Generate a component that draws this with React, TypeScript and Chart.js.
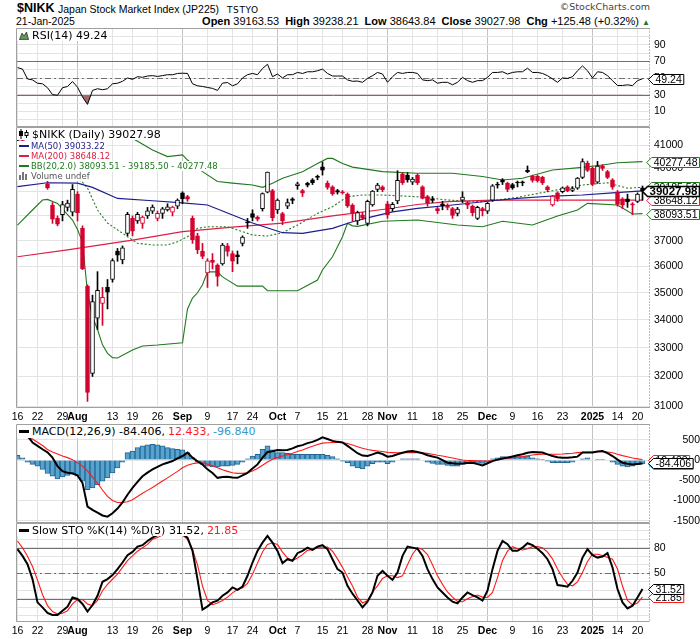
import React, { useEffect, useRef } from "react";
import { Chart, registerables } from "chart.js";

Chart.register(...registerables);

// ---------------- DATA ----------------
const dates = [
  "2024-07-16","2024-07-17","2024-07-18","2024-07-19","2024-07-22","2024-07-23","2024-07-24","2024-07-25","2024-07-26","2024-07-29","2024-07-30","2024-07-31",
  "2024-08-01","2024-08-02","2024-08-05","2024-08-06","2024-08-07","2024-08-08","2024-08-09","2024-08-13","2024-08-14","2024-08-15","2024-08-16","2024-08-19","2024-08-20","2024-08-21","2024-08-22","2024-08-23","2024-08-26","2024-08-27","2024-08-28","2024-08-29","2024-08-30",
  "2024-09-02","2024-09-03","2024-09-04","2024-09-05","2024-09-06","2024-09-09","2024-09-10","2024-09-11","2024-09-12","2024-09-13","2024-09-17","2024-09-18","2024-09-19","2024-09-20","2024-09-24","2024-09-25","2024-09-26","2024-09-27","2024-09-30",
  "2024-10-01","2024-10-02","2024-10-03","2024-10-04","2024-10-07","2024-10-08","2024-10-09","2024-10-10","2024-10-11","2024-10-15","2024-10-16","2024-10-17","2024-10-18","2024-10-21","2024-10-22","2024-10-23","2024-10-24","2024-10-25","2024-10-28","2024-10-29","2024-10-30","2024-10-31",
  "2024-11-01","2024-11-05","2024-11-06","2024-11-07","2024-11-08","2024-11-11","2024-11-12","2024-11-13","2024-11-14","2024-11-15","2024-11-18","2024-11-19","2024-11-20","2024-11-21","2024-11-22","2024-11-25","2024-11-26","2024-11-27","2024-11-28","2024-11-29",
  "2024-12-02","2024-12-03","2024-12-04","2024-12-05","2024-12-06","2024-12-09","2024-12-10","2024-12-11","2024-12-12","2024-12-13","2024-12-16","2024-12-17","2024-12-18","2024-12-19","2024-12-20","2024-12-23","2024-12-24","2024-12-25","2024-12-26","2024-12-27","2024-12-30",
  "2025-01-06","2025-01-07","2025-01-08","2025-01-09","2025-01-10","2025-01-14","2025-01-15","2025-01-16","2025-01-17","2025-01-20","2025-01-21",
];

const openP = [
  41200,41200,40600,40300,39800,39800,39330,38450,37900,38050,38350,38150,
  38900,37500,35250,32100,34060,34600,35210,35500,36600,36250,37300,37900,37800,37700,38000,38200,37900,38100,38250,38150,38400,
  38950,38800,37900,37200,36600,35750,36250,36050,36100,36800,36500,36450,36900,37750,38100,37950,38300,38980,39050,
  38250,38100,38400,38700,39250,39050,39350,39500,39650,40050,39350,39200,39050,39000,38900,38450,37800,38050,37700,38450,39100,39200,
  38500,38300,38620,39750,39700,39400,39700,39200,38800,38700,38300,38500,38400,38300,38100,38650,38550,38400,37900,38300,
  38200,38650,39300,39500,39350,39300,39400,39380,39900,39650,39650,39600,39200,38450,38950,39000,39200,39050,39150,39600,40200,
  40000,39400,40100,39850,39500,39000,38700,38700,38500,38600,39163.53,
];
const highP = [
  41380,41250,40650,40500,40100,39900,39450,38550,38000,38600,38650,39300,
  39000,37600,35300,34911,35800,35200,35500,36300,36700,36800,38150,38000,38150,38000,38350,38450,38200,38350,38500,38400,38700,
  39000,38850,38000,37300,36900,36300,36500,36100,36900,36900,36600,36600,37200,37900,38250,38000,38950,39830,39100,
  38700,38150,38700,38750,39400,39100,39400,39550,39700,40260,39450,39250,39100,39050,38950,38500,38200,38150,38650,39050,39350,39250,
  38600,38550,39885,39800,39800,39600,39750,39250,38850,38800,38350,38600,38500,38350,38350,39000,38600,38450,38400,38350,
  38550,39300,39400,39550,39400,39350,39450,39450,40091,39700,39700,39650,39250,38850,39000,39200,39250,39200,39600,40398,40300,
  40050,40288,40150,39900,39550,39050,38750,38900,38550,38950,39238.21,
];
const lowP = [
  41060,40950,40000,39900,39500,39500,39100,37700,37600,37800,38200,38000,
  37800,35880,31156,32000,33650,33800,34400,35400,36200,36100,37200,37200,37700,37500,37900,38100,37800,37900,38200,38000,38300,
  38500,38600,36900,36500,36300,35200,35900,35250,36050,36400,35800,36100,36800,37500,37800,37800,38200,38950,37800,
  38100,37650,38300,38500,39100,38800,39200,39300,39500,39700,39100,38850,38900,38900,38350,37800,37650,37850,37600,38400,39000,39000,
  37900,38200,38500,39300,39400,39300,39300,38700,38400,38550,38100,38250,38250,37900,38000,38550,38300,38000,37850,38000,
  38100,38600,39150,39300,39000,39100,39200,39250,39800,39400,39400,39300,39000,38400,38600,38950,39000,39000,39100,39550,39850,
  39250,39350,39900,39550,39100,38400,38300,38350,38050,38550,38643.84,
];
const closeP = [
  41275,41098,40126,40063,39599,39594,39154,37869,37667,38468,38525,39101,
  38126,35909,31458,34675,35089,34831,35025,36232,36442,36726,38062,37388,38063,37951,38211,38364,38110,38288,38371,38362,38647,
  38700,38686,37047,36657,36391,36215,36159,35619,36833,36581,36203,36380,37155,37723,37940,37870,38926,39830,37919,
  38651,37808,38552,38635,39332,38937,39277,39380,39605,39910,39180,38911,38981,38954,38411,38104,38143,37913,38605,39027,39277,39081,
  38053,38474,39480,39381,39500,39533,39376,38721,38535,38642,38220,38414,38352,38026,38284,38780,38442,38134,38349,38208,
  38513,39248,39276,39395,39091,39160,39367,39372,39849,39470,39457,39364,39081,38813,38701,39161,39036,39130,39568,40281,39894,
  39307,40083,39981,39605,39190,38474,38444,38572,38451,38902.5,39027.98,
];
const prevCloseBeforeStart = 41190;

// Moving averages / Bollinger bands (day index, value)
const ma50Day = [0,6,12,15,20,27,33,38,43,47,53,57,63,67,71,75,80,87,95,100,107,113,119,125];
const ma50Val = [39210,39375,39360,39180,38720,38625,38540,38448,38038,37715,37325,37300,37500,37765,37970,38170,38310,38448,38625,38720,38820,38862,38955,39033.22];
const ma200Day = [0,10,23,33,43,53,63,73,80,86,95,110,125];
const ma200Val = [36376,36643,37033,37367,37546,37710,38000,38265,38470,38590,38654,38654,38648.12];
const bbUpDay = [0,12,18,21,23,27,30,33,34,37,40,43,47,49,51,53,57,60,62,63,65,67,73,80,87,93,97,101,107,113,117,120,125];
const bbUpVal = [42700,42600,42300,41810,41296,40782,40494,40567,40346,39846,39425,39359,39280,39184,39359,39565,39846,40200,40415,40415,40200,40040,39846,39777,39777,39640,39491,39563,39917,40031,40131,40228,40277.48];
const bbMidDay = [0,6,10,13,14,16,18,22,24,27,30,32,34,36,38,42,44,47,50,53,56,60,63,66,69,73,80,86,93,100,106,113,118,122,125];
const bbMidVal = [40700,40300,39800,39400,39154,38243,37714,37165,36904,36838,36838,36967,37165,37500,37566,37566,37432,37232,37192,37324,37633,38105,38380,38793,38862,38862,38790,38654,38585,38770,39000,39280,39375,39145,39185.5];
const bbLoDay = [0,3,5,6,8,11,12,13,14,15,16,17,18,19,20,23,25,28,33,34,35,36,37,38,40,41,44,49,50,56,60,61,63,65,66,67,68,73,80,88,93,97,103,108,112,114,120,123,125];
const bbLoVal = [37633,38243,38654,38680,38515,37835,37450,36950,35000,34110,33650,33100,32800,32650,32640,32917,33060,33095,33177,34400,34800,35000,35300,35790,35790,35600,35250,35250,35075,35075,35480,35862,36376,37165,37700,37600,37580,37783,37835,37633,37566,37783,37633,37995,38243,38515,38448,38079,38093.51];

const rsi = [
  62.6,60.8,49.0,47.9,43.9,43.2,38.5,30.3,29.5,38.5,
  40.0,45.9,39.2,27.5,18.6,35.3,37.3,36.1,37.3,43.2,
  43.9,46.2,50.2,48.5,51.7,51.0,52.5,53.0,52.0,53.0,
  54.1,54.0,55.6,55.9,55.6,43.2,40.8,40.0,38.8,37.7,
  35.3,44.0,44.7,40.8,43.2,50.2,54.1,55.6,54.1,61.5,
  66.6,51.7,54.9,50.2,54.1,54.1,56.8,55.6,57.6,57.6,
  58.8,60.8,55.6,52.5,52.5,52.5,47.9,46.2,46.5,45.0,
  49.7,52.9,56.8,54.9,45.0,51.7,56.8,55.6,56.8,56.8,
  55.6,47.9,47.0,47.9,43.9,45.0,45.0,42.0,45.0,50.9,
  47.0,45.0,47.0,47.0,50.9,56.8,56.8,57.6,54.9,56.8,
  57.6,57.6,61.9,56.8,56.8,55.6,52.9,49.0,45.0,50.2,
  49.7,51.7,58.8,64.6,58.8,50.2,57.6,56.8,52.9,47.0,
  41.2,41.2,42.0,41.0,47.0,49.24,
];

const macd = [
  750,680,600,435,350,268,190,60,-150,-275,
  -315,-333,-380,-565,-1150,-1233,-1300,-1370,-1400,-1315,
  -1200,-1050,-858,-690,-540,-400,-310,-233,-170,-108,
  -65,-25,40,100,185,60,-30,-110,-230,-320,
  -440,-420,-415,-430,-440,-380,-315,-210,-108,60,
  200,220,250,240,250,290,340,370,420,450,
  500,560,520,475,450,435,350,260,170,110,
  100,140,185,150,85,100,143,180,210,225,
  200,168,120,90,60,0,-65,-80,-90,-83,
  -70,-65,-100,-133,-80,-25,10,40,60,90,
  120,143,180,200,195,185,140,100,70,60,
  60,70,85,185,190,185,210,225,170,100,
  10,-65,-90,-108,-95,-84.406,
];
const macdSignal = [
  643,600,560,518,440,360,260,200,150,100,
  60,10,-70,-150,-270,-420,-570,-740,-900,-1000,
  -1050,-1050,-1030,-983,-900,-820,-750,-680,-600,-520,
  -440,-360,-280,-190,-130,-90,-70,-70,-100,-140,
  -190,-240,-280,-315,-330,-330,-315,-270,-210,-130,
  -50,18,60,100,135,170,210,250,300,340,
  385,418,430,435,437,435,410,370,330,290,
  260,240,225,210,190,185,180,180,183,185,
  185,180,165,145,120,100,75,50,25,0,
  -10,-15,-20,-25,-25,-10,15,35,45,60,
  75,85,105,125,140,145,145,143,143,150,
  160,170,185,190,195,200,205,210,200,180,
  143,110,80,50,30,12.433,
];
const macdHist = [
  117,58,-50,-108,-150,-233,-333,-400,-467,-417,
  -383,-317,-400,-525,-733,-692,-608,-525,-442,-317,
  -192,-50,183,225,308,350,375,392,375,350,
  308,283,267,250,183,58,-50,-108,-150,-167,
  -167,-150,-150,-133,-108,-50,33,100,142,267,
  350,250,183,183,167,142,142,142,142,142,
  142,142,117,83,33,-25,-67,-150,-192,-217,
  -150,-92,-50,-50,-92,-50,0,33,33,33,
  33,0,-50,-83,-108,-108,-133,-150,-150,-108,
  -83,-83,-83,-83,-50,33,58,83,83,83,
  83,83,100,58,33,17,-25,-67,-67,-67,
  -67,-50,0,33,58,0,17,17,0,-50,
  -108,-150,-167,-150,-108,-96.84,
];

const stoK = [
  78.4,70.5,60.8,43.2,15.8,9.9,3.3,1.0,1.0,6.0,
  10.7,21.6,19.8,13.9,4.9,12.7,23.6,40.0,43.2,47.9,
  54.9,62.7,71.3,75.2,81.4,83.1,88.1,92.0,95,97,
  98,97,96,96,92,76.4,43.2,7.2,11.1,15.8,
  17.8,23.6,27.5,33.4,30.6,34.5,47.1,62.7,76.4,86.1,
  94.0,86.1,76.4,62.0,66.6,64.7,73.7,76.4,80.2,77.5,
  81.4,83.1,78.4,66.6,54.9,50.9,35.3,26,18,9.9,
  16.6,27.5,47.1,52.9,47.1,42.4,50.9,70.5,81.4,80.2,
  79.0,70.5,54.9,43.2,33.4,27.5,21.6,16.6,14.6,21.6,
  27.5,24.4,21.6,17.8,29.5,54.9,76.4,88.1,84.2,76.4,
  76.4,80.2,85.4,83.1,79.0,73.7,66.6,54.9,36.2,35.3,
  34.2,41.2,50.9,68.5,78.4,71.3,68.5,69.7,73.7,56.8,
  31.5,15.8,8.7,11.9,21.6,31.52,
];
const stoD = [
  88,80,70,58,42,25,12,5,2,3,
  6,14,19,19,14,12,18,29.5,37,43,
  49,57,65,70.5,76,80,84,90,92,95,
  97,97,97,95,90,78,60,35,18,13,
  15,18,22,27,31,33,38,49,62,75,
  84,86,84,75,68,65,68,72,77,78,
  80,80,81,76,67,57,46,35,22,15.1,
  18,28,35.3,44,47.1,47.1,45,47,60,72.5,
  80.2,78,72,60,47,37,28,22,17,16.6,
  20,22.8,24.4,22,21.6,27.5,45,65,76,81.4,
  79,77.5,79,81.4,81.4,80,75,67,55,45,
  37,35.3,40,50.9,64,72.5,72.5,71,68.5,66.6,
  55,35,18,12.7,15.1,21.85,
];

const xTickDates = ["2024-07-16","2024-07-22","2024-07-29","2024-08-01","2024-08-13","2024-08-19","2024-08-26","2024-09-02","2024-09-09","2024-09-17","2024-09-24","2024-10-01","2024-10-07","2024-10-15","2024-10-21","2024-10-28","2024-11-01","2024-11-11","2024-11-18","2024-11-25","2024-12-02","2024-12-09","2024-12-16","2024-12-23","2025-01-06","2025-01-14","2025-01-20"];
const xTickText = ["16","22","29","Aug","13","19","26","Sep","9","17","24","Oct","7","15","21","28","Nov","11","18","25","Dec","9","16","23","2025","14","20"];
const xTickMajor = [false,false,false,true,false,false,false,true,false,false,false,true,false,false,false,false,true,false,false,false,true,false,false,false,true,false,false];

const mainTicks = [31000,32000,33000,34000,35000,36000,37000,38000,39000,40000,41000];
const oscGrid = [0,10,20,30,40,50,60,70,80,90,100];
const rsiLabels = [90,70,50,30,10];
const stoLabels = [80,50,20];
const macdTicks = [-1500,-1000,-500,0,500];

// ---------------- STYLE ----------------
const FONT = '"Liberation Sans", Arial, Helvetica, sans-serif';
const LFONT = '"DejaVu Sans", Verdana, sans-serif';
const RED = "#d4002e";
const MA50C = "#1c1c8c";
const MA200C = "#dc1f45";
const BBC = "#1f7a1f";
const GRID = "#e3e3e3";
const MGRID = "#c2c2c2";
const X_MIN = -0.1;
const X_MAX = 126.5;

Chart.defaults.font.family = FONT;

const xTickIdx = xTickDates.map((d) => dates.indexOf(d));
const isMajor = (v: number) => {
  const k = xTickIdx.indexOf(v);
  return k >= 0 && xTickMajor[k];
};
const last = (a: number[]) => a[a.length - 1];

function zeroPad(s: any) {
  s.paddingTop = 0;
  s.paddingBottom = 0;
  s.paddingLeft = 0;
  s.paddingRight = 0;
}

function xScale(showLabels: boolean, h: number): any {
  return {
    type: "linear",
    min: X_MIN,
    max: X_MAX,
    offset: false,
    afterBuildTicks: (s: any) => {
      s.ticks = xTickIdx.map((v) => ({ value: v }));
    },
    afterFit: (s: any) => {
      s.height = h;
      zeroPad(s);
    },
    grid: {
      offset: false,
      drawTicks: false,
      color: (c: any) => (c.tick && isMajor(c.tick.value) ? MGRID : GRID),
    },
    border: { display: false },
    ticks: {
      display: showLabels,
      autoSkip: false,
      maxRotation: 0,
      padding: 3,
      color: "#000",
      font: (c: any) => ({ family: FONT, size: 10.5, weight: c.tick && isMajor(c.tick.value) ? "bold" : "normal" }),
      callback: (v: number) => {
        const k = xTickIdx.indexOf(v);
        return k >= 0 ? xTickText[k] : "";
      },
    },
  };
}

function yScale(min: number, max: number, ticks: number[], label: (v: number) => string, extra: any = {}): any {
  return {
    type: "linear",
    position: "right",
    min,
    max,
    afterFit: (s: any) => {
      s.width = 50;
      zeroPad(s);
    },
    afterBuildTicks: (s: any) => {
      s.ticks = ticks.map((v) => ({ value: v }));
    },
    grid: { drawTicks: false, color: GRID },
    border: { display: false },
    ticks: { padding: 4, autoSkip: false, color: "#000", font: { family: FONT, size: 10.5 }, callback: label },
    ...extra,
  };
}

function baseOptions(scales: any): any {
  return {
    responsive: false,
    animation: false,
    events: [],
    layout: { padding: { left: 17, right: 0, top: 8, bottom: 0 }, autoPadding: false },
    plugins: { legend: { display: false }, tooltip: { enabled: false } },
    scales,
  };
}

const pts = (xs: number[], ys: number[]) => xs.map((x, i) => ({ x, y: ys[i] }));
const series = (vals: number[]) => vals.map((v, i) => ({ x: i, y: v }));

function lineDs(data: any[], color: string, width: number, extra: any = {}): any {
  return { type: "line", data, borderColor: color, borderWidth: width, pointRadius: 0, tension: 0, fill: false, ...extra };
}

const framePlugin = {
  id: "frame",
  afterDraw(chart: any) {
    const { ctx, chartArea: a } = chart;
    const l = Math.round(a.left) - 0.5;
    const t = Math.round(a.top) + 0.5;
    const r = Math.round(a.right) - 0.5;
    const b = Math.round(a.bottom) - 0.5;
    ctx.save();
    ctx.strokeStyle = "#a0a0a0";
    ctx.lineWidth = 1;
    ctx.beginPath();
    ctx.moveTo(r, t);
    ctx.lineTo(l, t);
    ctx.lineTo(l, b);
    ctx.lineTo(r, b);
    ctx.stroke();
    ctx.setLineDash([1, 2]);
    ctx.strokeStyle = "#7a7a7a";
    ctx.beginPath();
    ctx.moveTo(r, t);
    ctx.lineTo(r, b);
    ctx.stroke();
    ctx.restore();
  },
};

function refPlugin(lines: { value: number; color: string; dash?: number[] }[]): any {
  return {
    id: "refLines",
    beforeDatasetsDraw(chart: any) {
      const { ctx, chartArea: a, scales } = chart;
      for (const L of lines) {
        const py = Math.round(scales.y.getPixelForValue(L.value)) + 0.5;
        ctx.save();
        ctx.strokeStyle = L.color;
        ctx.lineWidth = 1;
        ctx.setLineDash(L.dash || []);
        ctx.beginPath();
        ctx.moveTo(a.left, py);
        ctx.lineTo(a.right, py);
        ctx.stroke();
        ctx.restore();
      }
    },
  };
}

function tagPlugin(items: { value: number; text: string; color: string; bold?: boolean }[]): any {
  return {
    id: "tags",
    afterDraw(chart: any) {
      const { ctx, chartArea: a, scales } = chart;
      for (const t of items) {
        const py = Math.round(scales.y.getPixelForValue(t.value)) + 0.5;
        ctx.save();
        ctx.font = (t.bold ? "bold 11.5px " : "10.5px ") + FONT;
        const tw = ctx.measureText(t.text).width;
        let tip = a.right - 1.5;
        let bx = tip + 5;
        let ex = bx + tw + 4;
        if (ex > 699.5) {
          const s = ex - 699.5;
          tip -= s;
          bx -= s;
          ex -= s;
        }
        const h = 5;
        ctx.beginPath();
        ctx.moveTo(tip, py);
        ctx.lineTo(bx, py - h);
        ctx.lineTo(ex, py - h);
        ctx.lineTo(ex, py + h);
        ctx.lineTo(bx, py + h);
        ctx.closePath();
        ctx.fillStyle = "#fff";
        ctx.fill();
        ctx.lineWidth = t.bold ? 1.6 : 1;
        ctx.strokeStyle = t.color;
        ctx.stroke();
        ctx.fillStyle = "#000";
        ctx.textBaseline = "middle";
        ctx.textAlign = "left";
        ctx.fillText(t.text, bx + 2, py + 0.5);
        ctx.restore();
      }
    },
  };
}

// ---------------- CHART CONFIGS ----------------
function rsiConfig(): any {
  return {
    type: "line",
    data: {
      datasets: [
        lineDs(series(rsi), "#000", 1, {
          fill: { target: { value: 30 }, above: "rgba(0,0,0,0)", below: "#a06a6a" },
        }),
      ],
    },
    options: baseOptions({
      x: xScale(false, 1),
      y: yScale(-8.5, 110, oscGrid, (v: number) => (rsiLabels.includes(v) ? String(v) : "")),
    }),
    plugins: [
      refPlugin([
        { value: 70, color: "#707070" },
        { value: 30, color: "#707070" },
        { value: 50, color: "#707070", dash: [6, 3, 2, 3] },
      ]),
      framePlugin,
      tagPlugin([{ value: last(rsi), text: last(rsi).toFixed(2), color: "#000" }]),
    ],
  };
}

function mainConfig(): any {
  const candleColor = closeP.map((c, i) => (c < (i === 0 ? prevCloseBeforeStart : closeP[i - 1]) ? RED : "#000"));
  const bodyFill = closeP.map((c, i) => (c < openP[i] ? candleColor[i] : "#fff"));
  return {
    type: "bar",
    data: {
      datasets: [
        {
          type: "bar",
          data: closeP.map((c, i) => ({ x: i, y: [openP[i], c] })),
          backgroundColor: bodyFill,
          borderColor: candleColor,
          borderWidth: 1,
          borderSkipped: false,
          barThickness: 4,
          minBarLength: 1,
          grouped: false,
          order: 0,
        },
        {
          type: "bar",
          data: highP.map((h, i) => ({ x: i, y: [lowP[i], h] })),
          backgroundColor: candleColor,
          borderWidth: 0,
          barThickness: 1,
          grouped: false,
          order: 1,
        },
        lineDs(pts(ma50Day, ma50Val), MA50C, 1.2, { order: 2 }),
        lineDs(pts(ma200Day, ma200Val), MA200C, 1.2, { order: 3 }),
        lineDs(pts(bbUpDay, bbUpVal), BBC, 1.1, { order: 4 }),
        lineDs(pts(bbMidDay, bbMidVal), BBC, 1.1, { order: 5, borderDash: [2, 2] }),
        lineDs(pts(bbLoDay, bbLoVal), BBC, 1.1, { order: 6 }),
      ],
    },
    options: baseOptions({
      x: xScale(true, 17),
      y: {
        ...yScale(30937, 41798, mainTicks, (v: number) => String(v)),
        type: "logarithmic",
      },
    }),
    plugins: [
      framePlugin,
      tagPlugin([
        { value: last(bbUpVal), text: last(bbUpVal).toFixed(2), color: BBC },
        { value: last(bbMidVal), text: last(bbMidVal).toFixed(2), color: BBC },
        { value: last(ma50Val), text: last(ma50Val).toFixed(2), color: MA50C },
        { value: last(ma200Val), text: last(ma200Val).toFixed(2), color: MA200C },
        { value: last(bbLoVal), text: last(bbLoVal).toFixed(2), color: BBC },
        { value: last(closeP), text: last(closeP).toFixed(2), color: "#000", bold: true },
      ]),
    ],
  };
}

function macdConfig(): any {
  return {
    type: "bar",
    data: {
      datasets: [
        lineDs(series(macd), "#000", 2, { order: 0 }),
        lineDs(series(macdSignal), "#ff1a1a", 1.1, { order: 1 }),
        {
          type: "bar",
          data: series(macdHist),
          backgroundColor: "#57a3d0",
          borderColor: "#24668f",
          borderWidth: 1,
          barThickness: 5,
          grouped: false,
          order: 2,
        },
      ],
    },
    options: baseOptions({
      x: xScale(false, 1),
      y: yScale(-1557, 892, macdTicks, (v: number) => String(v), {
        ticks: { padding: 6, crossAlign: "far", autoSkip: false, color: "#000", font: { family: FONT, size: 10.5 }, callback: (v: number) => String(v) },
      }),
    }),
    plugins: [
      framePlugin,
      tagPlugin([
        { value: last(macdHist), text: last(macdHist).toFixed(3), color: "#3399cc" },
        { value: last(macdSignal), text: last(macdSignal).toFixed(3), color: "#ff1a1a" },
        { value: last(macd), text: last(macd).toFixed(3), color: "#000" },
      ]),
    ],
  };
}

function stoConfig(): any {
  return {
    type: "line",
    data: {
      datasets: [
        lineDs(series(stoK), "#000", 2, { order: 0 }),
        lineDs(series(stoD), "#ff1a1a", 1.1, { order: 1 }),
      ],
    },
    options: baseOptions({
      x: xScale(true, 17),
      y: yScale(-7.3, 109.2, oscGrid, (v: number) => (stoLabels.includes(v) ? String(v) : "")),
    }),
    plugins: [
      refPlugin([
        { value: 80, color: "#707070" },
        { value: 20, color: "#707070" },
        { value: 50, color: "#707070", dash: [6, 3, 2, 3] },
      ]),
      framePlugin,
      tagPlugin([
        { value: last(stoD), text: last(stoD).toFixed(2), color: "#ff1a1a" },
        { value: last(stoK), text: last(stoK).toFixed(2), color: "#000" },
      ]),
    ],
  };
}

// ---------------- COMPONENT ----------------
const abs = (left: number, top: number, extra: any = {}): any => ({ position: "absolute", left, top, whiteSpace: "nowrap", ...extra });

function Dash({ color, w = 10, h = 2, mr = 3 }: { color: string; w?: number; h?: number; mr?: number }) {
  return <span style={{ display: "inline-block", width: w, height: h, background: color, marginRight: mr }} />;
}

export default function App() {
  const rsiRef = useRef<HTMLCanvasElement>(null);
  const mainRef = useRef<HTMLCanvasElement>(null);
  const macdRef = useRef<HTMLCanvasElement>(null);
  const stoRef = useRef<HTMLCanvasElement>(null);

  useEffect(() => {
    const charts = [
      new Chart(rsiRef.current as any, rsiConfig()),
      new Chart(mainRef.current as any, mainConfig()),
      new Chart(macdRef.current as any, macdConfig()),
      new Chart(stoRef.current as any, stoConfig()),
    ];
    return () => charts.forEach((c) => c.destroy());
  }, []);

  const lastC = last(closeP);
  const prevC = closeP[closeP.length - 2];
  const chg = lastC - prevC;
  const chgPct = (chg / prevC) * 100;
  const lastDate = new Date(dates[dates.length - 1] + "T00:00:00");
  const mon = ["Jan","Feb","Mar","Apr","May","Jun","Jul","Aug","Sep","Oct","Nov","Dec"][lastDate.getMonth()];
  const dateText = `${String(lastDate.getDate()).padStart(2, "0")}-${mon}-${lastDate.getFullYear()}`;

  const legendBox = (top: number, h: number, font: string, children: any) => (
    <div style={abs(17, top, { height: h, background: "#fff", display: "flex", alignItems: "center", paddingLeft: 2, paddingRight: 2, font, zIndex: 3 })}>
      {children}
    </div>
  );

  return (
    <div style={{ position: "absolute", left: 0, top: 0, width: 700, height: 639, background: "#fff", overflow: "hidden", fontFamily: FONT, color: "#000" }}>
      {/* header */}
      <div style={abs(17, 1, { font: `bold 12.5px ${FONT}`, lineHeight: "15px" })}>$NIKK</div>
      <div style={abs(58, 3, { font: `10.5px ${FONT}`, lineHeight: "13px" })}>Japan Stock Market Index (JP225)</div>
      <div style={abs(227, 4, { font: `9px ${LFONT}`, letterSpacing: "0.6px", lineHeight: "12px" })}>TSTYO</div>
      <div style={abs(16, 15, { font: `10.5px ${FONT}`, lineHeight: "12px" })}>{dateText}</div>
      <div style={{ position: "absolute", right: 50, top: 1, font: `9.5px ${LFONT}`, color: "#444", lineHeight: "12px", whiteSpace: "nowrap" }}>
        ©StockCharts.com
      </div>
      <div style={{ position: "absolute", right: 50, top: 15, font: `11px ${FONT}`, lineHeight: "12px", whiteSpace: "nowrap" }}>
        <b>Open</b> {last(openP).toFixed(2)}
        <b style={{ marginLeft: 6 }}>High</b> {last(highP).toFixed(2)}
        <b style={{ marginLeft: 6 }}>Low</b> {last(lowP).toFixed(2)}
        <b style={{ marginLeft: 6 }}>Close</b> {lastC.toFixed(2)}
        <b style={{ marginLeft: 6 }}>Chg</b> {(chg >= 0 ? "+" : "") + chg.toFixed(2)} ({(chgPct >= 0 ? "+" : "") + chgPct.toFixed(2)}%){" "}
        <span style={{ color: "#1e7a1e", fontSize: 8 }}>▲</span>
      </div>

      {/* canvases */}
      <canvas ref={rsiRef} width={700} height={108} style={{ position: "absolute", left: 0, top: 20, width: 700, height: 108 }} />
      <canvas ref={mainRef} width={700} height={306} style={{ position: "absolute", left: 0, top: 119, width: 700, height: 306 }} />
      <canvas ref={macdRef} width={700} height={108} style={{ position: "absolute", left: 0, top: 416, width: 700, height: 108 }} />
      <canvas ref={stoRef} width={700} height={124} style={{ position: "absolute", left: 0, top: 515, width: 700, height: 124 }} />

      {/* RSI legend */}
      {legendBox(29, 12, `11px ${LFONT}`, (
        <>
          <svg width="10" height="9" style={{ marginRight: 3 }}>
            <path d="M0.5 8.5 L3 2 L5 5 L7.5 1 L9.5 8.5 Z" fill="#5a9a5a" stroke="#333" strokeWidth="0.8" />
            <path d="M0.5 8.5 L9.5 8.5" stroke="#8a4a4a" strokeWidth="1.2" />
          </svg>
          <span>RSI(14) {last(rsi).toFixed(2)}</span>
        </>
      ))}

      {/* Main legend */}
      {legendBox(128, 12, `11px ${LFONT}`, (
        <>
          <svg width="10" height="10" style={{ marginRight: 3 }}>
            <path d="M2 0 V10 M7.5 1 V9" stroke="#000" strokeWidth="1" />
            <rect x="0.5" y="2.5" width="3" height="4" fill="#000" stroke="#000" />
            <rect x="6" y="3.5" width="3" height="3" fill="#fff" stroke="#000" />
          </svg>
          <span>$NIKK (Daily) {lastC.toFixed(2)}</span>
        </>
      ))}
      {legendBox(141, 10, `8.5px ${LFONT}`, (
        <>
          <Dash color={MA50C} mr={2} />
          <span style={{ color: MA50C }}>MA(50) {last(ma50Val).toFixed(2)}</span>
        </>
      ))}
      {legendBox(151, 10, `8.5px ${LFONT}`, (
        <>
          <Dash color={MA200C} mr={2} />
          <span style={{ color: MA200C }}>MA(200) {last(ma200Val).toFixed(2)}</span>
        </>
      ))}
      {legendBox(161, 10, `8.5px ${LFONT}`, (
        <>
          <Dash color={BBC} mr={2} />
          <span style={{ color: BBC }}>
            BB(20,2.0) {last(bbLoVal).toFixed(2)} - {last(bbMidVal).toFixed(2)} - {last(bbUpVal).toFixed(2)}
          </span>
        </>
      ))}
      {legendBox(171, 10, `8.5px ${LFONT}`, (
        <>
          <svg width="10" height="8" style={{ marginRight: 2 }}>
            <rect x="0" y="3" width="2" height="5" fill="#777" />
            <rect x="3" y="0" width="2" height="8" fill="#777" />
            <rect x="6" y="2" width="2" height="6" fill="#777" />
          </svg>
          <span style={{ color: "#555" }}>Volume undef</span>
        </>
      ))}

      {/* MACD legend */}
      {legendBox(425, 13, `11px ${LFONT}`, (
        <>
          <Dash color="#000" h={3} />
          <span>MACD(12,26,9) {last(macd).toFixed(3)}, </span>
          <span style={{ color: "#ff1a1a", marginLeft: 3 }}>{last(macdSignal).toFixed(3)},</span>
          <span style={{ color: "#3399cc", marginLeft: 3 }}>{last(macdHist).toFixed(3)}</span>
        </>
      ))}

      {/* STO legend */}
      {legendBox(524, 12, `11px ${LFONT}`, (
        <>
          <Dash color="#000" h={3} />
          <span>Slow STO %K(14) %D(3) {last(stoK).toFixed(2)}, </span>
          <span style={{ color: "#ff1a1a", marginLeft: 3 }}>{last(stoD).toFixed(2)}</span>
        </>
      ))}
    </div>
  );
}
